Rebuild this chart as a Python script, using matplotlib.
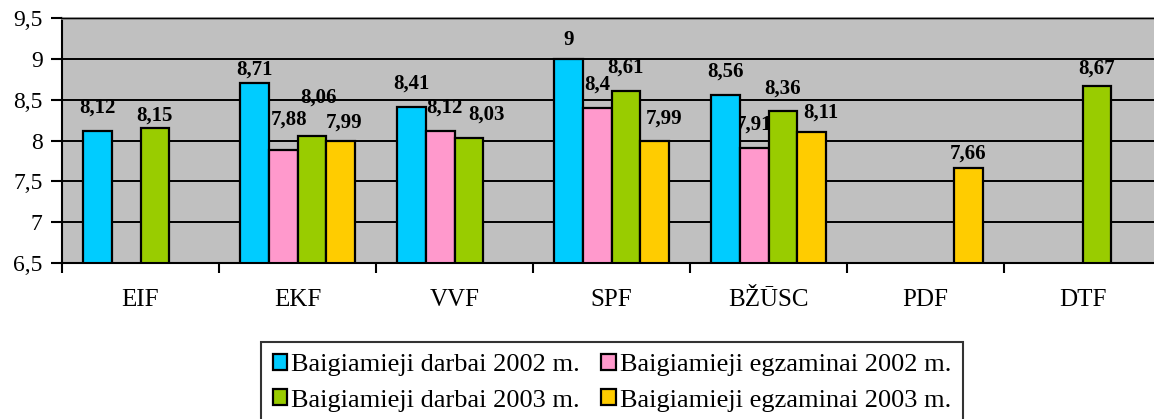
import numpy as np
import matplotlib
matplotlib.use('Agg')
from matplotlib import pyplot as plt

categories = ['EIF', 'EKF', 'VVF', 'SPF', 'BŽŪSC', 'PDF', 'DTF']
series_names = ['Baigiamieji darbai 2002 m.', 'Baigiamieji egzaminai 2002 m.',
                'Baigiamieji darbai 2003 m.', 'Baigiamieji egzaminai 2003 m.']
darbai_2002 = [8.12, 8.71, 8.41, 9.00, 8.56, None, None]
egzaminai_2002 = [None, 7.88, 8.12, 8.40, 7.91, None, None]
darbai_2003 = [8.15, 8.06, 8.03, 8.61, 8.36, None, 8.67]
egzaminai_2003 = [None, 7.99, None, 7.99, 8.11, 7.66, None]
colors = ['#00CCFF', '#FF99CC', '#99CC00', '#FFCC00']

# value label placement as in the original: (dx, gap above bar) in px
label_gap = 13
label_fix = {(0, 2): (0, 3), (1, 0): (0, 3), (1, 1): (6, 21), (1, 2): (7, 28),
             (1, 3): (4, 9), (2, 1): (4, 13), (2, 2): (18, 13), (3, 0): (0, 9),
             (3, 3): (10, 13), (4, 3): (10, 9), (5, 3): (0, 5), (6, 2): (0, 7)}

plt.rcParams['font.family'] = ['Liberation Serif', 'DejaVu Serif']

W, H = 1154, 419
fig = plt.figure(figsize=(W / 100, H / 100), dpi=100)
ax = fig.add_axes([62 / W, (H - 263) / H, 1099 / W, 245 / H])
ax.set_facecolor('#C0C0C0')

x = np.arange(len(categories))
w = 1 / 5.5
all_series = [darbai_2002, egzaminai_2002, darbai_2003, egzaminai_2003]
handles = []
for i, (vals, col) in enumerate(zip(all_series, colors)):
    pos = x + (i - 1.5) * w
    xs = [p for p, v in zip(pos, vals) if v is not None]
    vs = [v for v in vals if v is not None]
    b = ax.bar(xs, vs, width=w, color=col, edgecolor='black', linewidth=1.6, zorder=3)
    handles.append(b)
    for c, v in enumerate(vals):
        if v is None:
            continue
        lbl = ('%g' % v).replace('.', ',')
        dx, gap = label_fix.get((c, i), (0, label_gap))
        ax.annotate(lbl, (pos[c], v), xytext=(dx * 0.72, gap * 0.72),
                    textcoords='offset points', ha='center', va='bottom',
                    fontsize=15, fontweight='bold', zorder=2)

ax.set_ylim(6.5, 9.5)
ax.set_xlim(-0.5, 6.5)
yt = np.arange(6.5, 9.51, 0.5)
ax.set_yticks(yt)
ax.set_yticklabels([('%g' % t).replace('.', ',') for t in yt], fontsize=17)
ax.set_axisbelow(False)
ax.yaxis.grid(True, color='black', linewidth=1.4)

ax.set_xticks(np.arange(-0.5, 7, 1))
ax.set_xticklabels([])
ax.set_xticks(x, minor=True)
ax.set_xticklabels(categories, minor=True, fontsize=18)
ax.tick_params(axis='x', which='major', length=7, width=1.5, direction='out')
ax.tick_params(axis='x', which='minor', length=0, pad=19)
ax.tick_params(axis='y', length=8, width=1.5, pad=6)

ax.spines['top'].set_color('#808080')
ax.spines['top'].set_linewidth(2)
ax.spines['right'].set_visible(False)
ax.spines['left'].set_linewidth(1.5)
ax.spines['bottom'].set_linewidth(1.5)
ax.spines['bottom'].set_zorder(4)

# row-major order in the legend
order = [0, 2, 1, 3]
leg = fig.legend([handles[k] for k in order], [series_names[k] for k in order],
                 ncol=2, loc='upper left',
                 bbox_to_anchor=(261 / W, 1 - 342 / H), fontsize=19,
                 frameon=True, fancybox=False, edgecolor='black',
                 handlelength=0.55, handleheight=0.55, handletextpad=0.15,
                 columnspacing=0.8, labelspacing=0.5, borderpad=0.45,
                 borderaxespad=0)
leg.get_frame().set_linewidth(1.5)

fig.savefig('out.png', dpi=100)
